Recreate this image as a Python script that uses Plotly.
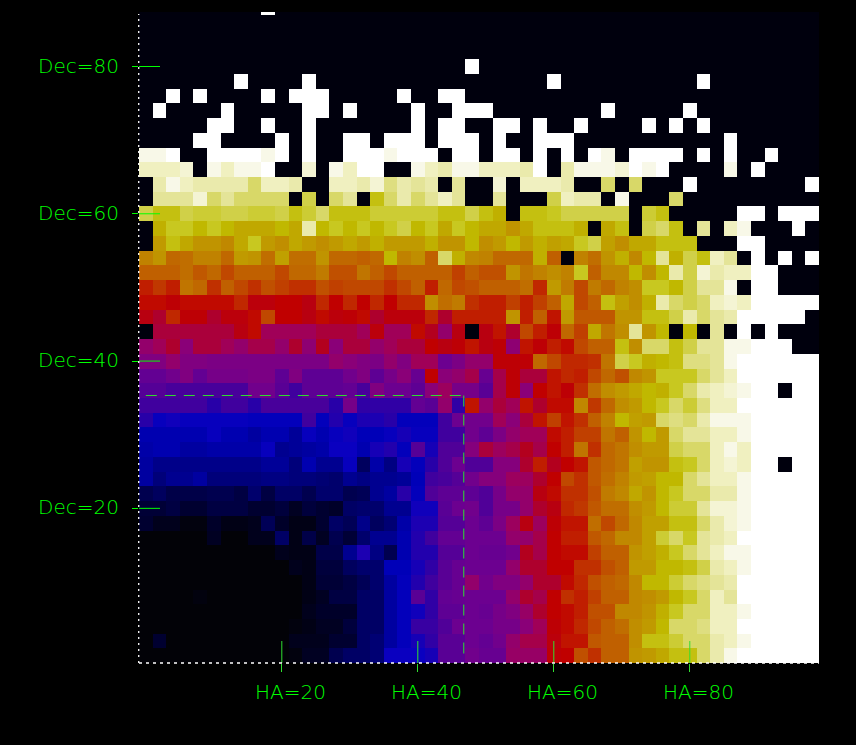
import plotly.graph_objects as go

N = None
W = 100

ha_centres = list(range(0, 100, 2))
dec_centres = list(range(0, 90, 2))
ha_ticks = [20, 40, 60, 80]
dec_ticks = [20, 40, 60, 80]
ha_labels = ["HA=20", "HA=40", "HA=60", "HA=80"]
dec_labels = ["Dec=20", "Dec=40", "Dec=60", "Dec=80"]
cross_ha = 46.76
cross_dec = 35.32

# rows listed from the top (Dec=88) to the bottom (Dec=0); 50 HA bins each
rows_top_down = [
[N,N,N,N,N,N,N,N,N,W, N,N,N,N,N,N,N,N,N,N, N,N,N,N,N,N,N,N,N,N, N,N,N,N,N,N,N,N,N,N, N,N,N,N,N,N,N,N,N,N],
[N,N,N,N,N,N,N,N,N,N, N,N,N,N,N,N,N,N,N,N, N,N,N,N,N,N,N,N,N,N, N,N,N,N,N,N,N,N,N,N, N,N,N,N,N,N,N,N,N,N],
[N,N,N,N,N,N,N,N,N,N, N,N,N,N,N,N,N,N,N,N, N,N,N,N,N,N,N,N,N,N, N,N,N,N,N,N,N,N,N,N, N,N,N,N,N,N,N,N,N,N],
[N,N,N,N,N,N,N,N,N,N, N,N,N,N,N,N,N,N,N,N, N,N,N,N,N,N,N,N,N,N, N,N,N,N,N,N,N,N,N,N, N,N,N,N,N,N,N,N,N,N],
[N,N,N,N,N,N,N,N,N,N, N,N,N,N,N,N,N,N,N,N, N,N,N,N,W,N,N,N,N,N, N,N,N,N,N,N,N,N,N,N, N,N,N,N,N,N,N,N,N,N],
[N,N,N,N,N,N,N,W,N,N, N,N,W,N,N,N,N,N,N,N, N,N,N,N,N,N,N,N,N,N, W,N,N,N,N,N,N,N,N,N, N,W,N,N,N,N,N,N,N,N],
[N,N,W,N,W,N,N,N,N,W, N,W,W,W,N,N,N,N,N,W, N,N,W,W,N,N,N,N,N,N, N,N,N,N,N,N,N,N,N,N, N,N,N,N,N,N,N,N,N,N],
[N,W,N,N,N,N,W,N,N,N, N,N,W,W,N,W,N,N,N,N, W,N,N,W,W,W,N,N,N,N, N,N,N,N,W,N,N,N,N,N, W,N,N,N,N,N,N,N,N,N],
[N,N,N,N,N,W,W,N,N,W, N,N,W,N,N,N,N,N,N,N, W,N,W,W,N,N,W,W,N,W, N,N,W,N,N,N,N,W,N,W, N,W,N,N,N,N,N,N,N,N],
[N,N,N,N,W,W,N,N,N,N, W,N,W,N,N,W,W,N,W,W, W,N,W,W,W,N,W,N,N,W, W,W,N,N,N,N,N,N,N,N, N,N,N,W,N,N,N,N,N,N],
[98,98,W,N,N,W,W,W,W,98, W,N,W,N,N,W,W,W,98,W, W,W,N,W,W,N,W,W,N,W, N,W,N,W,98,N,W,W,W,W, N,W,N,W,N,N,W,N,N,N],
[96,96,96,97,N,98,96,98,98,W, N,N,97,N,98,96,W,W,N,N, 98,96,95,98,98,96,96,96,95,W, N,95,98,98,98,97,W,98,W,N, N,N,N,98,N,W,N,N,N,N],
[N,95,98,96,95,95,95,95,92,96, 96,95,N,N,96,96,95,97,93,95, 94,95,N,94,N,N,97,N,96,96, 96,95,N,N,92,N,92,N,N,N, W,N,N,N,N,N,N,N,N,W],
[N,94,94,94,97,92,94,92,92,92, 92,N,91,N,92,94,N,88,92,95, 92,94,96,94,N,N,94,N,N,N, 91,96,95,95,N,98,N,N,N,92, N,N,N,N,N,N,N,N,N,N],
[91,88,88,91,90,90,91,91,90,90, 91,88,90,92,88,88,88,90,90,90, 90,90,88,88,91,88,86,N,88,88, 89,91,91,91,91,91,N,90,88,N, N,N,N,N,W,W,N,W,W,W],
[N,86,89,89,87,89,87,85,85,85, 87,85,95,87,89,87,89,87,89,91, 87,89,85,89,87,85,85,82,85,88, 88,88,86,N,85,88,N,91,92,88, N,94,N,96,98,N,N,N,W,N],
[N,83,88,85,82,82,80,85,89,83, 81,85,83,81,83,85,83,86,83,83, 83,86,82,82,87,81,83,87,83,86, 84,85,89,91,84,81,85,85,88,88, 88,N,N,N,W,W,N,N,N,N],
[79,82,75,76,79,79,75,83,82,76, 84,76,76,82,75,75,74,75,87,79, 81,74,92,86,80,79,75,75,75,86, 74,N,79,76,82,86,80,87,94,86, 91,88,96,94,N,W,N,W,N,W],
[74,74,74,76,73,75,71,74,74,74, 71,75,75,78,72,72,77,74,71,74, 74,74,74,70,74,72,72,82,77,79, 81,79,89,74,80,80,87,81,87,95, 91,97,95,96,96,W,W,N,N,N],
[66,69,66,77,75,68,74,71,68,72, 70,68,68,72,70,71,71,71,68,71, 74,66,75,71,72,74,74,74,76,67, 83,78,71,78,75,79,81,89,89,87, 91,94,94,98,N,W,W,N,N,N],
[64,64,62,64,64,64,64,67,61,61, 63,63,60,67,63,67,63,67,63,67, 67,81,76,78,68,66,66,70,66,70, 74,85,71,74,88,84,81,86,95,92, 91,92,96,97,96,W,W,W,W,W],
[60,58,67,62,62,58,61,61,64,71, 63,63,60,64,61,62,64,58,61,61, 61,67,58,66,66,66,66,82,66,74, 65,83,73,73,73,82,82,88,88,91, 95,92,94,95,W,W,W,W,W,N],
[N,57,57,57,57,57,57,60,64,55, 55,55,55,57,57,57,55,61,55,55, 64,59,52,60,N,60,65,58,71,66, 62,75,70,85,77,81,94,82,87,N, 87,N,94,N,W,N,W,N,N,N],
[52,55,58,50,57,57,55,52,56,56, 52,58,51,59,50,57,57,52,55,57, 57,63,60,62,65,60,62,51,65,62, 66,64,71,74,74,88,81,92,92,88, 91,94,94,98,98,W,W,W,N,N],
[48,48,52,48,48,47,47,47,47,47, 47,47,47,47,52,50,48,47,52,48, 55,55,44,47,52,52,62,62,62,75, 71,67,67,68,77,91,89,86,87,88, 93,93,94,98,W,W,W,W,W,W],
[42,42,45,48,42,46,46,46,47,47, 41,48,41,41,41,45,48,41,46,50, 43,63,50,52,56,43,56,62,57,57, 65,67,66,71,75,72,80,82,89,89, 89,92,94,96,W,W,W,W,W,W],
[39,39,37,37,37,37,37,37,45,45, 40,36,41,41,41,42,37,48,44,44, 41,50,54,46,46,40,56,62,50,63, 65,62,68,76,81,83,85,87,86,89, 92,95,96,97,98,W,W,N,W,W],
[36,36,36,36,36,33,36,36,33,37, 37,37,37,37,33,46,34,34,34,34, 42,40,52,34,65,52,57,55,65,58, 64,64,80,69,75,81,83,87,89,92, 90,93,96,96,W,W,W,W,W,W],
[33,27,29,27,27,27,27,27,26,26, 26,26,36,26,32,27,31,31,33,26, 26,26,36,44,45,45,55,50,57,65, 70,65,68,74,79,87,84,83,92,93, 92,95,98,98,98,W,W,W,W,W],
[24,24,24,24,24,27,24,24,22,24, 24,21,27,24,27,29,25,25,27,30, 27,27,36,36,45,41,47,52,55,55, 64,66,70,70,77,74,82,87,83,92, 94,94,96,96,98,W,W,W,W,W],
[23,24,24,22,22,23,23,23,23,27, 20,21,22,23,28,28,24,30,32,26, 39,30,38,38,49,57,54,56,59,56, 63,66,77,68,75,77,81,83,83,91, 92,92,96,98,96,W,W,W,W,W],
[22,19,19,19,19,19,19,19,19,21, 21,17,24,20,20,27,13,23,18,30, 26,33,38,44,38,38,49,49,58,66, 59,63,65,73,75,77,84,82,82,88, 89,92,96,97,96,W,W,N,W,W],
[22,17,20,20,22,17,17,17,17,18, 18,17,17,16,15,20,18,20,20,21, 25,36,37,39,45,49,49,54,54,58, 63,71,68,73,76,79,83,84,87,87, 92,94,96,96,98,W,W,W,W,W],
[11,13,10,10,10,11,11,9,15,9, 14,14,11,15,15,11,12,20,22,33, 26,38,41,41,41,38,46,52,52,60, 64,68,68,72,78,80,85,82,87,89, 92,92,95,95,98,W,W,W,W,W],
[7,7,9,6,6,9,9,9,6,6, 8,4,8,6,5,14,15,15,20,20, 29,29,40,44,45,38,46,46,52,58, 60,67,69,73,76,76,81,83,87,90, 90,94,97,97,98,W,W,W,W,W],
[6,3,3,1,1,5,2,2,3,12, 5,2,2,6,14,12,19,13,16,23, 31,31,39,39,44,41,47,54,60,54, 62,65,65,76,71,75,80,84,84,88, 88,92,95,97,98,W,W,W,W,W],
[0,0,0,0,0,4,0,0,3,3, 14,2,10,4,11,7,15,20,20,24, 32,36,42,42,44,44,44,52,52,56, 63,66,66,73,75,80,80,84,90,92, 89,94,95,96,W,W,W,W,W,W],
[0,0,0,0,0,0,0,0,0,0, 3,2,2,10,10,20,31,18,11,24, 32,32,39,39,44,43,43,45,59,56, 63,64,64,70,74,74,82,84,86,89, 92,94,96,98,98,W,W,W,W,W],
[0,0,0,0,0,0,0,0,0,0, 0,3,2,8,8,13,15,15,25,25, 30,34,40,43,44,44,44,52,58,58, 63,63,68,68,72,74,83,83,87,87, 88,91,95,96,98,W,W,W,W,W],
[0,0,0,0,0,0,0,0,0,0, 0,0,2,7,7,9,12,15,22,26, 32,36,40,43,52,45,48,48,52,58, 58,64,67,72,74,75,80,87,87,90, 92,93,94,95,W,W,W,W,W,W],
[0,0,0,0,1,0,0,0,0,0, 0,0,2,4,9,9,14,14,22,26, 40,34,42,43,44,44,44,52,58,56, 63,68,66,70,74,74,80,81,83,87, 89,92,96,94,W,W,W,W,W,W],
[0,0,0,0,0,0,0,0,0,0, 0,0,3,5,5,5,14,14,22,26, 29,34,41,41,44,43,46,48,53,58, 63,64,66,72,72,80,80,82,86,89, 92,92,96,96,98,W,W,W,W,W],
[0,0,0,0,0,0,0,0,0,0, 0,1,2,4,4,8,14,14,22,26, 35,35,38,44,44,44,46,46,50,55, 62,64,67,71,74,76,81,83,87,92, 92,93,96,96,W,W,W,W,W,W],
[0,6,0,0,0,0,0,0,0,0, 0,3,3,3,6,6,14,16,22,26, 30,34,40,40,44,42,45,52,56,56, 61,65,65,73,74,74,81,88,88,90, 92,92,95,96,98,W,W,W,W,W],
[0,0,0,0,0,0,0,0,0,0, 0,1,4,4,11,14,14,16,28,28, 28,30,40,40,45,43,43,53,53,53, 62,63,72,68,74,74,82,83,85,88, 88,92,95,98,W,W,W,W,W,W],
]

colorscale = [
    [0.00, "#020207"], [0.06, "#000030"], [0.10, "#000048"], [0.15, "#00006c"],
    [0.20, "#000090"], [0.25, "#0000b8"], [0.28, "#0a00c0"], [0.33, "#2800a8"],
    [0.38, "#500098"], [0.44, "#6c0090"], [0.50, "#8a0078"], [0.55, "#a00058"],
    [0.60, "#b80010"], [0.63, "#c00000"], [0.67, "#c02800"], [0.72, "#c05000"],
    [0.75, "#c06800"], [0.80, "#c08800"], [0.84, "#c0a000"], [0.87, "#c0b800"],
    [0.89, "#c8c820"], [0.91, "#d0d048"], [0.92, "#d8d868"], [0.94, "#e4e498"],
    [0.96, "#f0f0c0"], [0.98, "#f8f8e8"], [1.00, "#ffffff"],
]

GREEN = "#00ff00"
TICK = "#30e030"
LABEL_FONT = dict(family="DejaVu Sans ExtraLight, DejaVu Sans Light, DejaVu Sans", size=20, color=GREEN)

fig = go.Figure(go.Heatmap(
    x=ha_centres, y=dec_centres, z=rows_top_down[::-1],
    zmin=0, zmax=100, colorscale=colorscale, showscale=False,
    hoverinfo="skip",
))

shapes = []
for v in ha_ticks:
    shapes.append(dict(type="line", xref="x", yref="y", x0=v, x1=v, ysizemode="pixel",
                       yanchor=-1, y0=0, y1=22, line=dict(color=TICK, width=1)))
for v in dec_ticks:
    shapes.append(dict(type="line", xref="x", yref="y", y0=v, y1=v, xsizemode="pixel",
                       xanchor=-1, x0=0, x1=21, line=dict(color=GREEN, width=1)))
# crosshair
shapes.append(dict(type="line", xref="x", yref="y", x0=0, x1=cross_ha, y0=cross_dec, y1=cross_dec,
                   line=dict(color=TICK, width=1, dash="11px,8px")))
shapes.append(dict(type="line", xref="x", yref="y", x0=cross_ha, x1=cross_ha, y0=cross_dec, y1=0,
                   line=dict(color=TICK, width=1, dash="11px,8px")))
# dotted frame
shapes.append(dict(type="line", xref="paper", yref="paper", x0=0, x1=1, y0=0, y1=0,
                   line=dict(color="white", width=1.3, dash="3px,4px")))
shapes.append(dict(type="line", xref="paper", yref="paper", x0=-0.0004, x1=-0.0004, y0=0, y1=0.997,
                   line=dict(color="white", width=1.3, dash="2px,4px")))

annotations = []
for v, t in zip(ha_ticks, ha_labels):
    annotations.append(dict(x=v, y=0, xref="x", yref="paper", text=t, showarrow=False,
                            xanchor="center", yanchor="middle", xshift=9, yshift=-29,
                            font=LABEL_FONT))
for v, t in zip(dec_ticks, dec_labels):
    annotations.append(dict(x=0, y=v, xref="paper", yref="y", text=t, showarrow=False,
                            xanchor="right", yanchor="middle", xshift=-18, yshift=1,
                            font=LABEL_FONT))

fig.update_layout(
    width=856, height=745, autosize=False,
    margin=dict(l=138.7, r=37.3, t=11.5, b=81.6, pad=0),
    paper_bgcolor="black", plot_bgcolor="#00000d",
    xaxis=dict(range=[-1, 99], tickmode="array", tickvals=ha_ticks, showticklabels=False,
               ticks="outside", ticklen=8, tickwidth=1, tickcolor=TICK,
               showgrid=False, zeroline=False, showline=False),
    yaxis=dict(range=[-1, 87.4], tickmode="array", tickvals=dec_ticks, showticklabels=False,
               ticks="outside", ticklen=6, tickwidth=1, tickcolor=GREEN,
               showgrid=False, zeroline=False, showline=False),
    shapes=shapes, annotations=annotations, showlegend=False,
)
fig.write_html("out.html", config=dict(displayModeBar=False),
               post_script="document.body.style.margin='0';document.documentElement.style.background='black';")
